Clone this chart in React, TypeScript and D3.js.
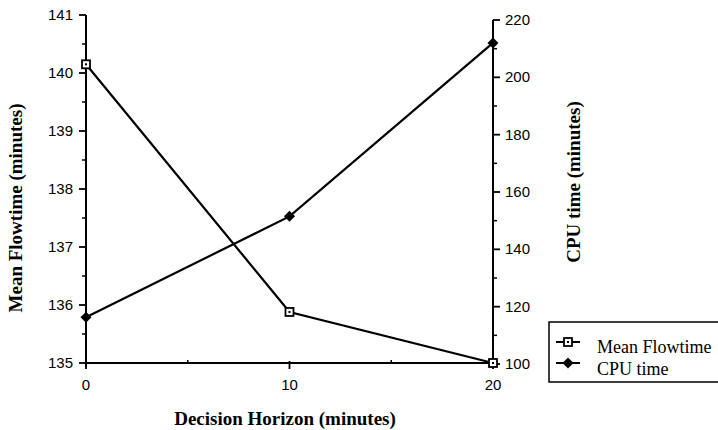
import React from "react";
import * as d3 from "d3";

const horizons = [0, 10, 20];
const meanFlowtime = [140.15, 135.88, 135.0];
const cpuTime = [116.3, 151.5, 212];
const leftTicks = [135, 136, 137, 138, 139, 140, 141];
const leftMinor = [135.5, 136.5, 137.5, 138.5, 139.5, 140.5];
const rightTicks = [100, 120, 140, 160, 180, 200, 220];
const rightMinor = [110, 130, 150, 170, 190, 210];
const xTicks = [0, 10, 20];
const xMinor = [5, 15];
const seriesNames = ["Mean Flowtime", "CPU time"];

const W = 718;
const H = 430;

export default function App() {
  const x = d3.scaleLinear().domain([0, 20]).range([86, 493]);
  const yL = d3.scaleLinear().domain([135, 141]).range([363, 15]);
  const yR = d3.scaleLinear().domain([100, 220]).range([364, 20]);

  const lineL = d3
    .line<number>()
    .x((_, i) => x(horizons[i]))
    .y((d) => yL(d));
  const lineR = d3
    .line<number>()
    .x((_, i) => x(horizons[i]))
    .y((d) => yR(d));

  const sans = "'Liberation Sans', Arial, sans-serif";
  const serif = "'Liberation Serif', 'Times New Roman', serif";

  const square = (cx: number, cy: number, key: string) => (
    <g key={key}>
      <rect x={cx - 4} y={cy - 4} width={8} height={8} fill="#fff" stroke="#000" strokeWidth={1.8} />
      <rect x={cx - 1} y={cy - 1} width={2} height={2} fill="#000" />
    </g>
  );
  const diamond = (cx: number, cy: number, key: string) => (
    <path key={key} d={`M${cx},${cy - 5.5}L${cx + 5.5},${cy}L${cx},${cy + 5.5}L${cx - 5.5},${cy}Z`} fill="#000" />
  );

  const legY = [342, 363];
  const legText = [353, 375];

  return (
    <svg width={W} height={H} style={{ position: "absolute", left: 0, top: 0, background: "#fff" }}>
      <rect x={0} y={0} width={W} height={H} fill="#fff" />
      {/* left axis */}
      <line x1={x(0)} x2={x(0)} y1={yL(141)} y2={yL(135) + 4} stroke="#000" strokeWidth={2} />
      {leftTicks.map((t) => (
        <g key={"lt" + t}>
          <line x1={x(0) - 7} x2={x(0)} y1={yL(t)} y2={yL(t)} stroke="#000" strokeWidth={1.8} />
          <text x={x(0) - 13} y={yL(t) + 5} textAnchor="end" fontFamily={sans} fontSize={15}>
            {t}
          </text>
        </g>
      ))}
      {leftMinor.map((t) => (
        <line key={"lm" + t} x1={x(0) - 4} x2={x(0)} y1={yL(t)} y2={yL(t)} stroke="#000" strokeWidth={1.5} />
      ))}
      {/* right axis */}
      <line x1={x(20)} x2={x(20)} y1={yR(220)} y2={yR(100) + 4} stroke="#000" strokeWidth={2} />
      {rightTicks.map((t) => (
        <g key={"rt" + t}>
          <line x1={x(20)} x2={x(20) + 7} y1={yR(t)} y2={yR(t)} stroke="#000" strokeWidth={1.8} />
          <text x={x(20) + 12} y={yR(t) + 5} textAnchor="start" fontFamily={sans} fontSize={15}>
            {t}
          </text>
        </g>
      ))}
      {rightMinor.map((t) => (
        <line key={"rm" + t} x1={x(20)} x2={x(20) + 4} y1={yR(t)} y2={yR(t)} stroke="#000" strokeWidth={1.5} />
      ))}
      {/* x axis */}
      <line x1={x(0)} x2={x(20)} y1={yL(135)} y2={yL(135)} stroke="#000" strokeWidth={2} />
      {xTicks.map((t) => (
        <g key={"xt" + t}>
          <line x1={x(t)} x2={x(t)} y1={yL(135) - 2} y2={yL(135) + 6} stroke="#000" strokeWidth={1.8} />
          <text x={x(t)} y={yL(135) + 27} textAnchor="middle" fontFamily={sans} fontSize={15}>
            {t}
          </text>
        </g>
      ))}
      {xMinor.map((t) => (
        <line key={"xm" + t} x1={x(t)} x2={x(t)} y1={yL(135) - 3} y2={yL(135)} stroke="#000" strokeWidth={1.5} />
      ))}
      {/* titles */}
      <text
        x={285}
        y={425}
        textAnchor="middle"
        fontFamily={serif}
        fontWeight="bold"
        fontSize={19}
      >
        Decision Horizon (minutes)
      </text>
      <text
        transform={`translate(22,208) rotate(-90)`}
        textAnchor="middle"
        fontFamily={serif}
        fontWeight="bold"
        fontSize={19}
      >
        Mean Flowtime (minutes)
      </text>
      <text
        transform={`translate(580,182) rotate(-90)`}
        textAnchor="middle"
        fontFamily={serif}
        fontWeight="bold"
        fontSize={19}
      >
        CPU time (minutes)
      </text>
      {/* series */}
      <path d={lineL(meanFlowtime) || ""} fill="none" stroke="#000" strokeWidth={2.2} />
      <path d={lineR(cpuTime) || ""} fill="none" stroke="#000" strokeWidth={2.2} />
      {cpuTime.map((v, i) => diamond(x(horizons[i]), yR(v), "d" + i))}
      {meanFlowtime.map((v, i) => square(x(horizons[i]), yL(v), "s" + i))}
      {/* legend */}
      <rect x={549} y={322} width={180} height={60} fill="#fff" stroke="#000" strokeWidth={1.5} />
      {seriesNames.map((n, i) => (
        <g key={"lg" + i}>
          <line x1={556} x2={580} y1={legY[i]} y2={legY[i]} stroke="#000" strokeWidth={2} />
          {i === 0 ? square(568, legY[i], "ls") : diamond(568, legY[i], "ld")}
          <text x={597} y={legText[i]} fontFamily={serif} fontSize={18}>
            {n}
          </text>
        </g>
      ))}
    </svg>
  );
}
